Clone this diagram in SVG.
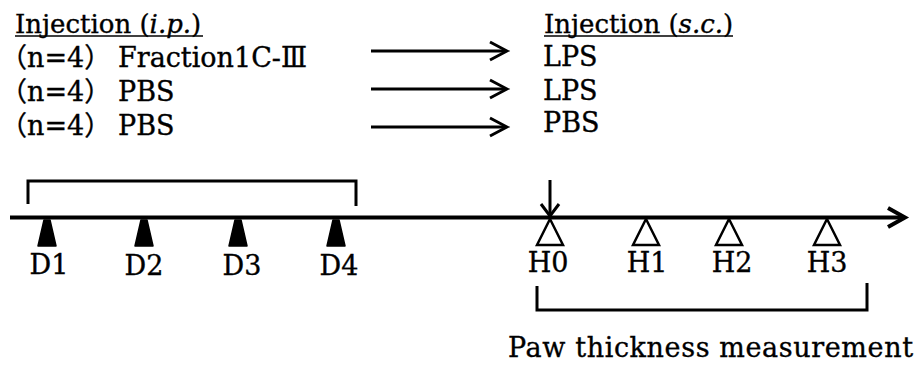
<svg xmlns="http://www.w3.org/2000/svg" xmlns:xlink="http://www.w3.org/1999/xlink" width="917" height="365" viewBox="0 0 917 365">
<style>
text{font-family:"DejaVu Serif","Liberation Serif","Noto Sans CJK JP",serif;font-size:27px;fill:#000;stroke:#000;stroke-width:0.35}
.hd{font-size:26px}
.ln{stroke:#000;fill:none;stroke-width:3}
.ul{stroke:#000;stroke-width:1.5}
.mid{text-anchor:middle}
</style>
<defs>
<path id="dmark" d="M-3,220 L3,220 L9,246 L-9,246 Z" fill="#000" stroke="#000" stroke-width="1.5" stroke-linejoin="round"/>
<path id="hmark" d="M0,219 L13,245 L-13,245 Z" fill="#fff" stroke="#000" stroke-width="2.5" stroke-linejoin="miter"/>
<path id="chev" d="M-17,-9 L0,0 L-17,9" fill="none" stroke="#000" stroke-width="3"/>
</defs>
<g id="ip-header">
<text class="hd" x="15" y="33">Injection (<tspan font-style="italic">i.p.</tspan>)</text>
<line class="ul" x1="15" y1="36" x2="203" y2="36"/>
</g>
<g id="ip-row1"><text x="0" y="67">（n=4）<tspan x="118">Fraction1C-Ⅲ</tspan></text></g>
<g id="ip-row2"><text x="0" y="101">（n=4）<tspan x="118">PBS</tspan></text></g>
<g id="ip-row3"><text x="0" y="135">（n=4）<tspan x="118">PBS</tspan></text></g>
<g id="sc-header">
<text class="hd" x="544" y="33">Injection (<tspan font-style="italic">s.c.</tspan>)</text>
<line class="ul" x1="544" y1="36" x2="733" y2="36"/>
</g>
<g id="sc-row1"><text x="543" y="66">LPS</text></g>
<g id="sc-row2"><text x="543" y="100">LPS</text></g>
<g id="sc-row3"><text x="543" y="132">PBS</text></g>
<g id="connectors">
<line class="ln" x1="371" y1="51" x2="506" y2="51"/>
<use xlink:href="#chev" x="507" y="51"/>
<line class="ln" x1="371" y1="89" x2="506" y2="89"/>
<use xlink:href="#chev" x="507" y="89"/>
<line class="ln" x1="371" y1="127" x2="506" y2="127"/>
<use xlink:href="#chev" x="507" y="127"/>
<line x1="10" y1="217.5" x2="903" y2="217.5" stroke="#000" stroke-width="4"/>
<path d="M888,208 L905,217.5 L888,227" fill="none" stroke="#000" stroke-width="4"/>
<polyline class="ln" points="28,204 28,181 356,181 356,206"/>
<polyline class="ln" points="537,286 537,310 867,310 867,283"/>
<line class="ln" x1="550" y1="180" x2="550" y2="215"/>
<path d="M541,204 L550,216 L559,204" fill="none" stroke="#000" stroke-width="3"/>
</g>
<g id="D1"><use xlink:href="#dmark" x="47"/><text class="mid" x="49" y="274">D1</text></g>
<g id="D2"><use xlink:href="#dmark" x="144"/><text class="mid" x="144" y="275">D2</text></g>
<g id="D3"><use xlink:href="#dmark" x="238"/><text class="mid" x="242" y="275">D3</text></g>
<g id="D4"><use xlink:href="#dmark" x="336"/><text class="mid" x="339" y="275">D4</text></g>
<g id="H0"><use xlink:href="#hmark" x="550"/><text class="mid" x="548" y="272">H0</text></g>
<g id="H1"><use xlink:href="#hmark" x="646"/><text class="mid" x="647" y="272">H1</text></g>
<g id="H2"><use xlink:href="#hmark" x="729"/><text class="mid" x="732" y="272">H2</text></g>
<g id="H3"><use xlink:href="#hmark" x="827"/><text class="mid" x="827" y="272">H3</text></g>
<g id="paw-label"><text x="508" y="357" textLength="405">Paw thickness measurement</text></g>
</svg>
